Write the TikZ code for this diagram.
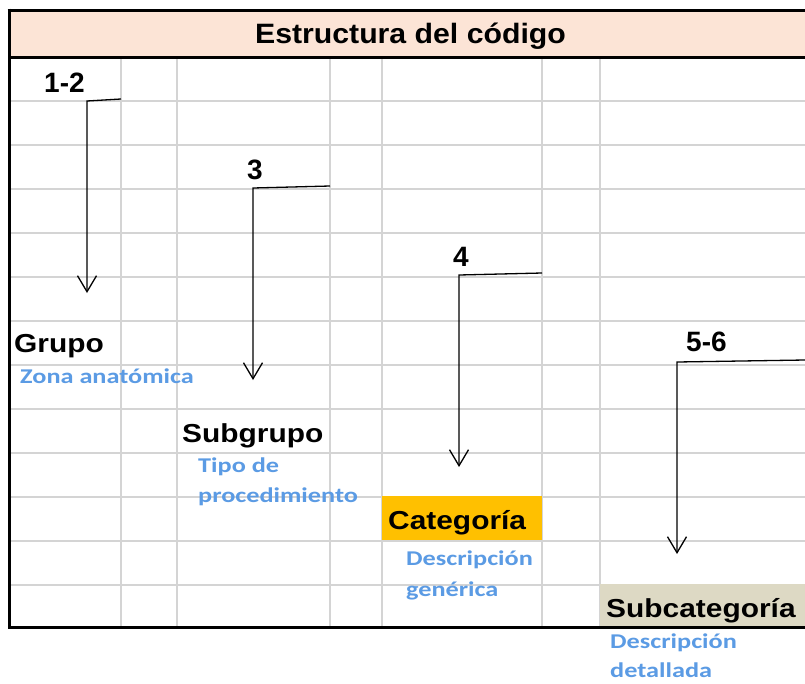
\documentclass[tikz,border=0pt]{standalone}
\usepackage{fontspec}
\usetikzlibrary{arrows.meta}
\newfontfamily\titlef{Liberation Sans}[FakeStretch=1.08]
\newfontfamily\labf{Liberation Sans}[FakeStretch=1.15]
\newfontfamily\numf{Liberation Sans}
\newfontfamily\bluef{Carlito}[FakeStretch=1.25]
\definecolor{headfill}{RGB}{252,228,214}
\definecolor{gridgray}{RGB}{212,212,212}
\definecolor{catfill}{RGB}{255,192,0}
\definecolor{subcatfill}{RGB}{221,217,196}
\definecolor{descblue}{RGB}{91,155,228}
\tikzset{
  gridline/.style={draw=gridgray, line width=2pt},
  border/.style={draw=black, line width=3pt},
  codearrow/.style={draw=black, line width=1.3pt, -{Straight Barb[length=16pt,width=19pt,line width=1.3pt]}},
  titletext/.style={inner sep=0pt, anchor=base, font=\titlef\bfseries\fontsize{28}{30}\selectfont},
  numtext/.style={inner sep=0pt, font=\numf\bfseries\fontsize{28}{30}\selectfont},
  labtext/.style={inner sep=0pt, anchor=base west, font=\labf\bfseries\fontsize{26}{28}\selectfont},
  bluetext/.style={inner sep=0pt, anchor=base west, text=descblue, font=\bluef\bfseries\fontsize{21}{23}\selectfont},
}
\begin{document}
\begin{tikzpicture}[x=1pt,y=-1pt]
\useasboundingbox (0,0) rectangle (805,683);
\fill[white] (0,0) rectangle (805,683);
% header
\fill[headfill] (9,10) rectangle (805,57);
% grid
\foreach \gx in {121,177,330,382,542,600}
  \draw[gridline] (\gx,57) -- (\gx,627);
\foreach \gy in {101,145,189,233,277,321,365,409,453,497,541,585}
  \draw[gridline] (9,\gy) -- (805,\gy);
% coloured cells
\fill[catfill] (382,496) rectangle (542,540);
\fill[subcatfill] (600,584) rectangle (805,627);
% borders
\draw[border] (7.5,10) -- (805,10);
\draw[border] (9,57) -- (805,57);
\draw[border] (9,8.5) -- (9,628.5);
\draw[border] (9,627) -- (805,627);
% title
\node[titletext] (title) at (410.5,43) {Estructura del código};
% numbers
\node[numtext, anchor=base west] (n12) at (44,92) {1-2};
\node[numtext, anchor=base] (n3) at (255,179) {3};
\node[numtext, anchor=base] (n4) at (461,266) {4};
\node[numtext, anchor=base west] (n56) at (686,351) {5-6};
% labels
\node[labtext] (grupo) at (14,352) {Grupo};
\node[labtext] (subgrupo) at (182,442) {Subgrupo};
\node[labtext] (categoria) at (388,529) {Categoría};
\node[labtext] (subcategoria) at (606,617) {Subcategoría};
% descriptions
\node[bluetext] (zona) at (20,383) {Zona anatómica};
\node[bluetext] (tipo1) at (198,472) {Tipo de};
\node[bluetext] (tipo2) at (198,502) {procedimiento};
\node[bluetext] (desc1) at (406,565) {Descripción};
\node[bluetext] (desc2) at (406,596) {genérica};
\node[bluetext] (desc3) at (610,648) {Descripción};
\node[bluetext] (desc4) at (610,677) {detallada};
% arrows
\coordinate (a1s) at (121,99);
\coordinate (a1c) at (87,101);
\coordinate (a1e) at (87,293);
\coordinate (a2s) at (330,186);
\coordinate (a2c) at (253,188);
\coordinate (a2e) at (253,380);
\coordinate (a3s) at (542,273);
\coordinate (a3c) at (459,275);
\coordinate (a3e) at (459,467);
\coordinate (a4s) at (805,360);
\coordinate (a4c) at (677,362);
\coordinate (a4e) at (677,554);
\draw[codearrow] (a1s) -- (a1c) -- (a1e);
\draw[codearrow] (a2s) -- (a2c) -- (a2e);
\draw[codearrow] (a3s) -- (a3c) -- (a3e);
\draw[codearrow] (a4s) -- (a4c) -- (a4e);
\end{tikzpicture}
\end{document}
